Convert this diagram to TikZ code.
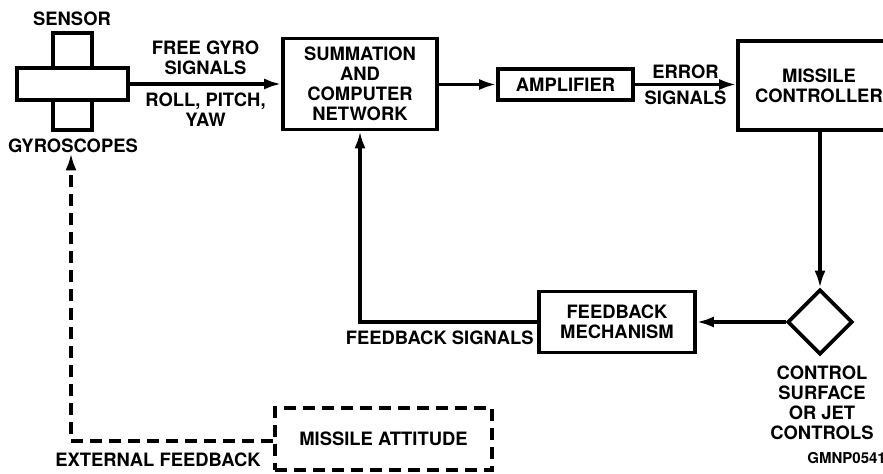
\documentclass[tikz,border=0pt]{standalone}
\usepackage{fontspec}
\setmainfont{TeX Gyre Heros}
\usetikzlibrary{shapes.geometric,arrows.meta}
\tikzset{
  blk/.style={draw, line width=1.8pt, fill=white, align=center, inner sep=0pt},
  lbl/.style={align=center, inner sep=0pt},
  flow/.style={line width=1.6pt, -{Latex[length=8.5pt,width=5.5pt]}},
  dashflow/.style={flow, dash pattern=on 6pt off 3.5pt},
}
\begin{document}
\begin{tikzpicture}[x=0.5pt, y=-0.5pt, font=\fontsize{9.2}{10}\selectfont\bfseries]
        \useasboundingbox (0,0) rectangle (883,474);

        % Sensor cross
        \node[blk, minimum width=19.5pt, minimum height=48.5pt] (gyrov) at (72.5,81.5) {};
        \node[blk, minimum width=55.5pt, minimum height=16pt] (sensor) at (72.5,84) {};
        \node[lbl] (sensorlbl) at (72,19) {SENSOR};
        \node[lbl] (gyrolbl) at (73,146) {GYROSCOPES};

        % Forward chain
        \node[blk, minimum width=77pt, minimum height=45.5pt] (summ) at (360,84)
            {SUMMATION\\AND\\COMPUTER\\NETWORK};
        \node[blk, minimum width=67.5pt, minimum height=15.5pt] (amp) at (565.5,84.5) {AMPLIFIER};
        \node[blk, minimum width=81pt, minimum height=44.5pt] (ctrl) at (819,85.5)
            {MISSILE\\CONTROLLER};

        % Feedback chain
        \node[draw, diamond, line width=1.8pt, minimum width=32.5pt, minimum height=32.5pt,
              inner sep=0pt] (surf) at (820,322) {};
        \node[lbl] (surflbl) at (822,403) {CONTROL\\SURFACE\\OR JET\\CONTROLS};
        \node[blk, minimum width=78pt, minimum height=30.5pt] (fbmech) at (617,322)
            {FEEDBACK\\MECHANISM};
        \node[lbl, anchor=east] (fbsig) at (534,338) {FEEDBACK SIGNALS};

        % External feedback
        \node[blk, dash pattern=on 6pt off 3.5pt, minimum width=108.5pt, minimum height=31pt]
            (attitude) at (383.5,439) {MISSILE ATTITUDE};
        \node[lbl] (extfb) at (158,460) {EXTERNAL FEEDBACK};
        \node[lbl, anchor=west, font=\fontsize{7.5}{8}\selectfont\bfseries] (figid) at (807,458) {GMNP0541};

        % Connectors
        \draw[flow] (sensor.east) -- (summ.west |- sensor.east)
            node[lbl, pos=0.5, above=4pt] (freelbl) {FREE GYRO\\SIGNALS}
            node[lbl, pos=0.5, below=3.5pt] (rpylbl) {ROLL, PITCH,\\YAW};
        \draw[flow] (summ.east |- amp.west) -- (amp.west);
        \draw[flow] (amp.east) -- (ctrl.west |- amp.east)
            node[lbl, pos=0.5, above=2pt] (errlbl) {ERROR}
            node[lbl, pos=0.5, below=2.5pt] (siglbl) {SIGNALS};
        \draw[flow] (ctrl.south -| surf.north) -- (surf.north);
        \draw[flow] (surf.west) -- (fbmech.east);
        \draw[flow] (fbmech.west) -| (summ.south);
        \draw[dashflow] (attitude.west |- 0,441) -| (gyrolbl.south -| 71,0);
    \end{tikzpicture}
\end{document}
